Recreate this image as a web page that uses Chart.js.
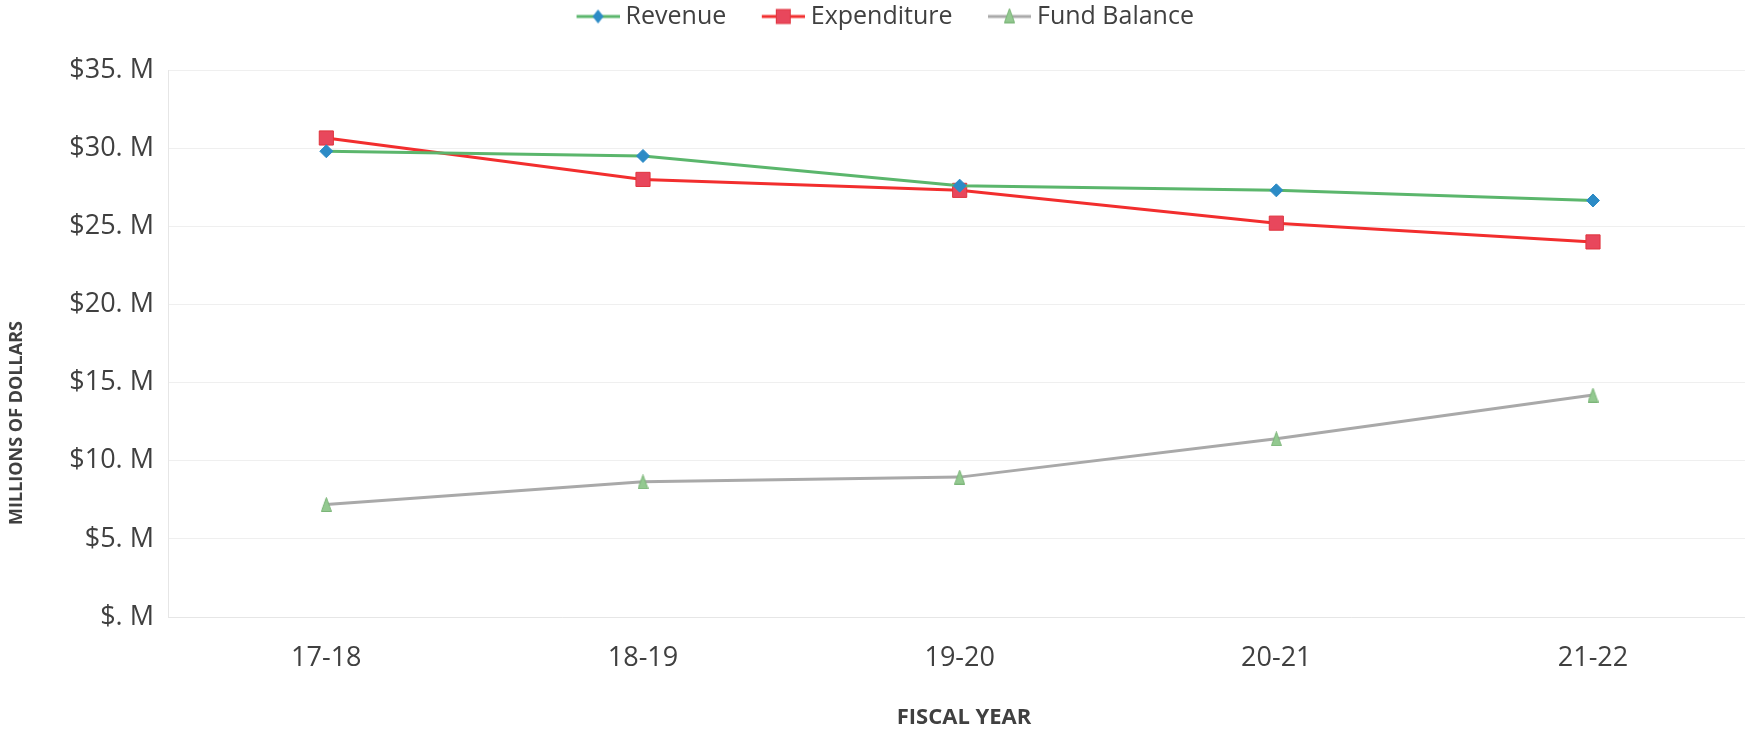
<!DOCTYPE html>
<html>
<head>
<meta charset="utf-8">
<script src="https://cdn.jsdelivr.net/npm/chart.js@4.4.1/dist/chart.umd.min.js"></script>
<style>
  html, body { margin: 0; padding: 0; background: #ffffff; }
  #wrap { width: 1745px; height: 731px; }
</style>
</head>
<body>
<div id="wrap"><canvas id="chart" width="1745" height="731"></canvas></div>
<script>
// Fiscal-year categories and series (millions of dollars)
const fiscalYears = ['17-18', '18-19', '19-20', '20-21', '21-22'];
const revenue = [29.8, 29.5, 27.6, 27.3, 26.65];
const expenditure = [30.65, 28.0, 27.3, 25.2, 24.0];
const fundBalance = [7.2, 8.65, 8.95, 11.4, 14.2];
const seriesNames = ['Revenue', 'Expenditure', 'Fund Balance'];
const yAxisTitle = 'MILLIONS OF DOLLARS';
const xAxisTitle = 'FISCAL YEAR';

const TEXT = '#404040';
const TICK_FONT = { family: "'Open Sans', sans-serif", size: 27 };
const LEGEND_FONT = { family: "'Open Sans', sans-serif", size: 25 };
const X_TITLE_FONT = { family: "'Open Sans', sans-serif", size: 22, weight: 'bold' };
const Y_TITLE_FONT = { family: "'Open Sans', sans-serif", size: 18, weight: 'bold' };

const COLORS = {
  revLine: '#5BB66C', revMark: '#2C8BC6',
  expLine: '#F22E2E', expMark: '#E8475C', expMarkEdge: '#E0343E',
  fundLine: '#A9A9A9', fundMark: '#93C990', fundMarkEdge: '#7BB578'
};

// Each series as {x: category index, y: value} for the linear x scale
const asPoints = values => values.map((v, i) => ({ x: i, y: v }));

// Tall narrow triangle used as the fund-balance marker
function triangleMarker(w, h) {
  const c = document.createElement('canvas');
  c.width = w; c.height = h;
  const g = c.getContext('2d');
  g.beginPath();
  g.moveTo(w / 2, 0.5);
  g.lineTo(w - 0.5, h - 0.5);
  g.lineTo(0.5, h - 0.5);
  g.closePath();
  g.fillStyle = COLORS.fundMark;
  g.fill();
  g.strokeStyle = COLORS.fundMarkEdge;
  g.lineWidth = 1;
  g.stroke();
  return c;
}
const fundTriangle = triangleMarker(11, 15);

// Legend swatch: a short line with the series marker in the middle.
// The transparent lead on the left spaces the entries apart.
const SWATCH_LEAD = 38, SWATCH_LINE = 43, SWATCH_BOX = 68;
function legendIcon(lineColor, drawMarker) {
  const h = 20;
  const c = document.createElement('canvas');
  c.width = SWATCH_LEAD + SWATCH_LINE; c.height = h;
  const g = c.getContext('2d');
  g.strokeStyle = lineColor;
  g.lineWidth = 3;
  g.beginPath();
  g.moveTo(SWATCH_LEAD, h / 2);
  g.lineTo(SWATCH_LEAD + SWATCH_LINE, h / 2);
  g.stroke();
  drawMarker(g, SWATCH_LEAD + SWATCH_LINE / 2, h / 2);
  return c;
}
const legendIcons = [
  legendIcon(COLORS.revLine, (g, x, y) => {
    g.fillStyle = COLORS.revMark;
    g.beginPath();
    g.moveTo(x, y - 7); g.lineTo(x + 5.5, y); g.lineTo(x, y + 7); g.lineTo(x - 5.5, y);
    g.closePath(); g.fill();
  }),
  legendIcon(COLORS.expLine, (g, x, y) => {
    g.fillStyle = COLORS.expMark;
    g.fillRect(x - 7, y - 7, 14, 14);
    g.strokeStyle = COLORS.expMarkEdge;
    g.lineWidth = 1;
    g.strokeRect(x - 7, y - 7, 14, 14);
  }),
  legendIcon(COLORS.fundLine, (g, x, y) => {
    g.drawImage(fundTriangle, x - fundTriangle.width / 2, y - fundTriangle.height / 2 - 1);
  })
];

// Fixed band between legend and plot; the row is nudged to sit centred
const legendSpacer = {
  id: 'legendSpacer',
  beforeUpdate(chart) {
    const lg = chart.legend;
    if (lg && !lg._fixedHeight) {
      const fit = lg.fit;
      lg.fit = function () {
        fit.call(this);
        this.height = 70;
        if (this.lineWidths && this.lineWidths.length) this.lineWidths[0] += 6;
      };
      lg._fixedHeight = true;
    }
  }
};

// Axis titles
const axisTitles = {
  id: 'axisTitles',
  afterDraw(chart) {
    const ctx = chart.ctx;
    ctx.save();
    ctx.fillStyle = TEXT;
    ctx.textAlign = 'center';
    ctx.textBaseline = 'middle';
    ctx.font = `${X_TITLE_FONT.weight} ${X_TITLE_FONT.size}px ${X_TITLE_FONT.family}`;
    ctx.fillText(xAxisTitle, 964, 718);
    ctx.translate(17, 423);
    ctx.rotate(-Math.PI / 2);
    ctx.font = `${Y_TITLE_FONT.weight} ${Y_TITLE_FONT.size}px ${Y_TITLE_FONT.family}`;
    ctx.fillText(yAxisTitle, 0, 0);
    ctx.restore();
  }
};

new Chart(document.getElementById('chart'), {
  type: 'line',
  data: {
    datasets: [
      {
        label: seriesNames[0], data: asPoints(revenue),
        borderColor: COLORS.revLine, borderWidth: 3,
        pointStyle: 'rectRot', pointRadius: 6.5, pointHoverRadius: 6.5,
        pointBackgroundColor: COLORS.revMark, pointBorderColor: COLORS.revMark, pointBorderWidth: 1
      },
      {
        label: seriesNames[1], data: asPoints(expenditure),
        borderColor: COLORS.expLine, borderWidth: 3,
        pointStyle: 'rect', pointRadius: 10, pointHoverRadius: 10,
        pointBackgroundColor: COLORS.expMark, pointBorderColor: COLORS.expMarkEdge, pointBorderWidth: 1
      },
      {
        label: seriesNames[2], data: asPoints(fundBalance),
        borderColor: COLORS.fundLine, borderWidth: 3,
        pointStyle: fundTriangle, pointRadius: 7, pointHoverRadius: 7,
        pointBackgroundColor: COLORS.fundMark, pointBorderColor: COLORS.fundMarkEdge
      }
    ]
  },
  options: {
    responsive: false,
    animation: false,
    devicePixelRatio: 1,
    layout: { padding: 0, autoPadding: false },
    elements: { line: { tension: 0 } },
    plugins: {
      tooltip: { enabled: false },
      legend: {
        position: 'top',
        labels: {
          color: TEXT,
          font: LEGEND_FONT,
          usePointStyle: true,
          pointStyleWidth: SWATCH_BOX,
          padding: 4,
          generateLabels(chart) {
            return Chart.defaults.plugins.legend.labels.generateLabels(chart)
              .map((item, i) => Object.assign(item, { pointStyle: legendIcons[i] }));
          }
        }
      }
    },
    scales: {
      x: {
        type: 'linear',
        min: -0.5, max: 4.48,
        grid: { display: false },
        border: { display: true, color: '#E6E6E6', width: 1 },
        ticks: {
          color: TEXT, font: TICK_FONT, padding: 17, maxRotation: 0, autoSkip: false,
          callback: v => fiscalYears[v] ?? ''
        },
        afterBuildTicks(scale) { scale.ticks = fiscalYears.map((_, i) => ({ value: i })); },
        afterFit(scale) { scale.height = 114; }
      },
      y: {
        min: 0, max: 35,
        grid: { color: '#EFEFEF', lineWidth: 1, drawTicks: false },
        border: { display: true, color: '#E6E6E6', width: 1 },
        ticks: {
          stepSize: 5, color: TEXT, font: TICK_FONT, padding: 14,
          callback: v => v === 0 ? '$. M' : '$' + v + '. M'
        },
        afterFit(scale) { scale.width = 168; }
      }
    }
  },
  plugins: [legendSpacer, axisTitles]
});
</script>
</body>
</html>
